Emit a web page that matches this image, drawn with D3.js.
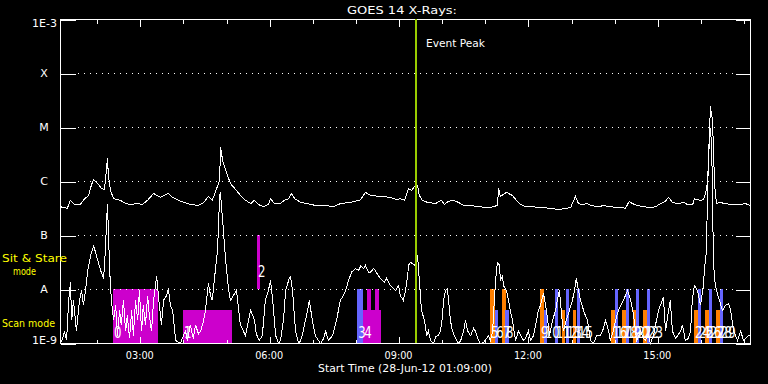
<!DOCTYPE html>
<html>
<head>
<meta charset="utf-8">
<script src="https://cdn.jsdelivr.net/npm/d3@7"></script>
<style>
	body { margin: 0; background: #000; }
	svg { display: block; background: #000; font-family: "DejaVu Sans", sans-serif; }
</style>
</head>
<body>
<svg id="chart" width="768" height="384"></svg>
<script>
// ---- data ----
// time is in decimal hours UT on 28-Jun-12, flux in W/m^2
const timeRange = [1.15, 17.15];
const majorHours = [3, 6, 9, 12, 15];
const minorHours = [2, 4, 5, 7, 8, 10, 11, 13, 14, 16, 17];
const fluxTicks = [1e-3, 1e-4, 1e-5, 1e-6, 1e-7, 1e-8, 1e-9];
const fluxTickLabels = ["1E-3", "X", "M", "C", "B", "A", "1E-9"];
const eventPeakHour = 9.38;

// 1-8 A channel
const longChannel = [[1.15,3.4e-7],[1.31,3.2e-7],[1.38,4.5e-7],[1.47,3.75e-7],[1.61,3.75e-7],[1.71,4.8e-7],[1.80,5.5e-7],[1.87,8.8e-7],[1.92,1.09e-6],[2.01,9.2e-7],[2.10,7.4e-7],[2.17,7.1e-7],[2.24,2.7e-6],[2.26,1.29e-6],[2.31,6.8e-7],[2.38,4.8e-7],[2.54,4.5e-7],[2.66,3.9e-7],[2.77,3.75e-7],[2.94,3.9e-7],[3.05,3.75e-7],[3.17,4.5e-7],[3.31,6.0e-7],[3.38,5.5e-7],[3.47,5.1e-7],[3.65,6.0e-7],[3.75,5.1e-7],[3.93,4.3e-7],[4.16,3.75e-7],[4.35,3.6e-7],[4.47,4.1e-7],[4.58,5.3e-7],[4.67,4.5e-7],[4.77,7.4e-7],[4.84,1.04e-6],[4.86,4.3e-6],[4.91,2.45e-6],[5.00,1.47e-6],[5.09,9.2e-7],[5.23,6.8e-7],[5.39,4.8e-7],[5.56,3.9e-7],[5.65,4.5e-7],[5.74,3.75e-7],[5.86,3.4e-7],[5.97,3.75e-7],[6.02,4.8e-7],[6.11,3.9e-7],[6.25,3.9e-7],[6.34,4.5e-7],[6.44,4.8e-7],[6.51,6.0e-7],[6.58,4.8e-7],[6.72,4.1e-7],[6.88,3.9e-7],[7.06,3.6e-7],[7.30,3.6e-7],[7.48,3.4e-7],[7.64,3.9e-7],[7.87,4.1e-7],[7.99,4.3e-7],[8.11,4.6e-7],[8.22,6.3e-7],[8.34,5.5e-7],[8.57,5.3e-7],[8.80,5.1e-7],[8.94,4.6e-7],[9.03,4.8e-7],[9.13,4.5e-7],[9.22,7.4e-7],[9.29,6.8e-7],[9.36,8.1e-7],[9.43,8.4e-7],[9.47,5.5e-7],[9.54,4.5e-7],[9.66,4.1e-7],[9.85,3.9e-7],[9.98,4.5e-7],[10.05,3.75e-7],[10.15,4.3e-7],[10.24,4.5e-7],[10.38,4.1e-7],[10.50,3.6e-7],[10.66,3.6e-7],[10.84,3.4e-7],[11.12,3.3e-7],[11.28,3.6e-7],[11.31,7.4e-7],[11.35,5.3e-7],[11.49,6.3e-7],[11.63,5.5e-7],[11.72,4.5e-7],[11.82,3.75e-7],[11.93,3.4e-7],[12.10,3.4e-7],[12.28,3.3e-7],[12.51,3.2e-7],[12.70,3.0e-7],[12.88,3.2e-7],[12.98,3.3e-7],[13.09,5.3e-7],[13.16,3.9e-7],[13.25,3.75e-7],[13.37,3.9e-7],[13.44,3.6e-7],[13.63,3.4e-7],[13.74,3.6e-7],[13.90,3.4e-7],[14.14,3.3e-7],[14.25,3.2e-7],[14.34,4.3e-7],[14.41,3.9e-7],[14.53,3.6e-7],[14.67,3.4e-7],[14.83,3.3e-7],[14.95,3.4e-7],[15.06,3.9e-7],[15.18,4.3e-7],[15.25,5.1e-7],[15.34,4.1e-7],[15.46,3.9e-7],[15.60,4.1e-7],[15.69,3.75e-7],[15.81,3.75e-7],[15.85,4.8e-7],[15.92,4.6e-7],[15.99,4.5e-7],[16.06,4.6e-7],[16.11,6.0e-7],[16.15,9.6e-7],[16.18,2.45e-6],[16.20,8.1e-6],[16.22,2.45e-5],[16.27,1.35e-5],[16.29,3.75e-6],[16.32,8.4e-7],[16.36,3.9e-7],[16.43,4.1e-7],[16.57,3.9e-7],[16.69,3.75e-7],[16.92,3.75e-7],[17.03,3.9e-7],[17.15,3.6e-7]];

// 0.5-4 A channel
const shortChannel = [[1.15,1.0e-9],[1.20,1.24e-9],[1.24,1.7e-9],[1.29,1.14e-9],[1.34,6.3e-9],[1.38,1.35e-8],[1.41,2.7e-9],[1.45,6.3e-9],[1.52,1.7e-9],[1.59,6.3e-9],[1.64,9.6e-9],[1.68,5.1e-9],[1.73,9.6e-9],[1.78,2.25e-8],[1.85,4.3e-8],[1.92,6.5e-8],[1.98,4.3e-8],[2.08,2.25e-8],[2.15,1.6e-8],[2.19,5.3e-8],[2.22,1.9e-7],[2.24,3.75e-7],[2.26,1.24e-7],[2.29,2.25e-8],[2.33,6.3e-9],[2.38,2.7e-9],[2.43,5.1e-9],[2.47,1.4e-9],[2.52,4.1e-9],[2.56,2.2e-9],[2.61,6.3e-9],[2.66,1.7e-9],[2.70,3.3e-9],[2.75,1.24e-9],[2.80,4.1e-9],[2.84,1.4e-9],[2.89,6.3e-9],[2.94,2.7e-9],[2.98,9.6e-9],[3.03,1.7e-9],[3.07,5.1e-9],[3.12,2.2e-9],[3.17,7.7e-9],[3.21,3.3e-9],[3.26,1.7e-9],[3.31,6.3e-9],[3.38,1.8e-8],[3.42,7.7e-9],[3.49,2.2e-9],[3.54,6.3e-9],[3.61,7.7e-9],[3.65,1.04e-8],[3.70,5.1e-9],[3.75,4.1e-9],[3.82,1.14e-9],[3.93,1.0e-9],[4.00,1.4e-9],[4.05,1.7e-9],[4.09,1.14e-9],[4.16,2.2e-9],[4.23,1.24e-9],[4.28,2.2e-9],[4.35,1.5e-9],[4.40,1.7e-9],[4.47,2.7e-9],[4.51,4.1e-9],[4.58,1.3e-8],[4.63,7.7e-9],[4.67,6.3e-9],[4.74,2.25e-8],[4.79,5.3e-8],[4.81,1.24e-7],[4.84,5.5e-7],[4.86,6.3e-7],[4.88,3.6e-7],[4.91,1.9e-7],[4.98,3.4e-8],[5.05,9.6e-9],[5.09,6.3e-9],[5.16,7.7e-9],[5.23,9.6e-9],[5.32,2.2e-9],[5.39,1.7e-9],[5.44,1.4e-9],[5.51,2.7e-9],[5.56,4.1e-9],[5.65,2.7e-9],[5.69,1.5e-9],[5.76,1.14e-9],[5.83,1.4e-9],[5.90,6.3e-9],[5.97,9.6e-9],[6.02,1.47e-8],[6.07,6.3e-9],[6.14,1.4e-9],[6.21,1.0e-9],[6.25,1.14e-9],[6.32,2.7e-9],[6.37,9.6e-9],[6.44,1.47e-8],[6.48,1.8e-8],[6.53,9.6e-9],[6.60,1.7e-9],[6.67,1.0e-9],[6.72,1.14e-9],[6.78,1.7e-9],[6.83,2.7e-9],[6.88,4.1e-9],[6.92,6.3e-9],[6.99,2.7e-9],[7.06,1.4e-9],[7.13,1.14e-9],[7.18,1.0e-9],[7.25,1.24e-9],[7.30,1.7e-9],[7.36,1.14e-9],[7.46,1.4e-9],[7.55,2.7e-9],[7.64,6.3e-9],[7.71,7.7e-9],[7.76,9.6e-9],[7.83,1.47e-8],[7.90,2.1e-8],[7.99,2.45e-8],[8.06,2.25e-8],[8.11,2.7e-8],[8.18,2.45e-8],[8.22,2.8e-8],[8.29,2.1e-8],[8.34,2.1e-8],[8.41,2.45e-8],[8.45,2.25e-8],[8.52,1.8e-8],[8.57,1.6e-8],[8.62,1.47e-8],[8.66,1.35e-8],[8.71,1.6e-8],[8.76,1.35e-8],[8.80,1.19e-8],[8.87,1.04e-8],[8.92,9.6e-9],[8.99,1.19e-8],[9.03,7.7e-9],[9.10,6.3e-9],[9.15,9.6e-9],[9.20,1.8e-8],[9.22,2.8e-8],[9.27,3.2e-8],[9.31,3.0e-8],[9.36,2.8e-8],[9.43,4.3e-8],[9.47,1.47e-8],[9.52,4.1e-9],[9.59,2.7e-9],[9.64,1.4e-9],[9.68,1.7e-9],[9.73,1.14e-9],[9.80,1.0e-9],[9.85,1.35e-9],[9.91,1.4e-9],[9.96,1.7e-9],[10.01,3.3e-9],[10.03,6.3e-9],[10.08,9.6e-9],[10.12,1.04e-8],[10.15,6.3e-9],[10.19,2.7e-9],[10.24,1.7e-9],[10.31,1.24e-9],[10.38,1.0e-9],[10.43,1.14e-9],[10.50,1.7e-9],[10.54,2.7e-9],[10.59,1.7e-9],[10.66,1.4e-9],[10.73,1.9e-9],[10.77,1.7e-9],[10.84,1.14e-9],[10.89,1.0e-9],[10.96,1.04e-9],[11.03,1.24e-9],[11.07,1.4e-9],[11.12,1.14e-9],[11.17,1.7e-9],[11.21,6.3e-9],[11.24,1.47e-8],[11.28,3.2e-8],[11.33,2.8e-8],[11.35,1.47e-8],[11.40,1.8e-8],[11.42,1.19e-8],[11.49,9.6e-9],[11.54,6.3e-9],[11.58,4.1e-9],[11.63,2.7e-9],[11.70,1.14e-9],[11.77,1.7e-9],[11.82,1.4e-9],[11.89,1.14e-9],[11.93,1.24e-9],[12.00,1.7e-9],[12.05,1.14e-9],[12.12,1.4e-9],[12.19,2.7e-9],[12.23,4.1e-9],[12.28,5.1e-9],[12.35,8.4e-9],[12.42,4.1e-9],[12.49,1.4e-9],[12.56,2.7e-9],[12.63,4.1e-9],[12.67,6.3e-9],[12.72,9.6e-9],[12.77,3.3e-9],[12.81,1.7e-9],[12.88,2.7e-9],[12.95,4.1e-9],[13.02,6.3e-9],[13.07,9.6e-9],[13.11,1.6e-8],[13.16,9.6e-9],[13.21,6.3e-9],[13.28,4.1e-9],[13.32,3.3e-9],[13.37,2.7e-9],[13.44,1.14e-9],[13.51,1.0e-9],[13.58,1.4e-9],[13.67,1.4e-9],[13.74,1.9e-9],[13.79,2.7e-9],[13.86,1.7e-9],[13.90,1.14e-9],[13.97,1.7e-9],[14.02,2.7e-9],[14.09,4.1e-9],[14.14,5.1e-9],[14.20,6.3e-9],[14.25,7.7e-9],[14.30,9.6e-9],[14.37,6.3e-9],[14.44,3.3e-9],[14.51,1.14e-9],[14.60,1.7e-9],[14.67,1.24e-9],[14.71,1.14e-9],[14.78,1.4e-9],[14.83,1.0e-9],[14.90,1.4e-9],[14.97,2.7e-9],[15.02,4.1e-9],[15.06,5.1e-9],[15.13,7.1e-9],[15.18,1.7e-9],[15.25,4.1e-9],[15.29,6.3e-9],[15.34,1.7e-9],[15.41,1.24e-9],[15.46,1.4e-9],[15.53,1.7e-9],[15.57,2.2e-9],[15.64,1.14e-9],[15.71,1.24e-9],[15.76,1.7e-9],[15.80,6.3e-9],[15.85,1.19e-8],[15.92,9.6e-9],[15.99,5.1e-9],[16.06,1.19e-8],[16.08,2.25e-8],[16.13,5.3e-8],[16.15,4.45e-7],[16.18,3.75e-6],[16.20,7.1e-6],[16.22,9.6e-6],[16.25,4.6e-6],[16.27,4.45e-7],[16.29,3.4e-8],[16.32,1.47e-8],[16.36,9.6e-9],[16.43,6.3e-9],[16.50,4.1e-9],[16.57,5.1e-9],[16.64,5.5e-9],[16.69,4.1e-9],[16.76,1.7e-9],[16.85,1.14e-9],[16.92,1.7e-9],[16.99,1.14e-9],[17.03,1.24e-9],[17.10,1.4e-9],[17.15,1.4e-9]];

// observation blocks (start / end in hours)
const obsStart = [2.38, 4.00, 5.72, 8.04, 8.18, 8.27, 8.45, 11.12, 11.24, 11.40, 11.47, 12.28, 12.37, 12.63, 12.79, 12.88, 13.05, 13.14, 13.93, 14.02, 14.18, 14.27, 14.44, 14.51, 14.67, 14.76, 15.85, 15.94, 16.11, 16.20, 16.36, 16.45];
const obsEnd = [3.42, 5.14, 5.79, 8.18, 8.59, 8.36, 8.55, 11.24, 11.31, 11.49, 11.56, 12.37, 12.44, 12.70, 12.86, 12.95, 13.12, 13.21, 14.02, 14.09, 14.27, 14.34, 14.51, 14.58, 14.76, 14.83, 15.94, 16.01, 16.20, 16.27, 16.45, 16.52];
const obsMode = ["scanWide", "scanNarrow", "stare", "scanWide", "scanNarrow", "scanWide", "scanWide",
	"scanWide", "scanNarrow", "scanWide", "scanNarrow",
	"scanWide", "scanNarrow", "scanWide", "scanNarrow", "scanWide", "scanNarrow", "scanWide",
	"scanNarrow", "scanWide", "scanNarrow", "scanWide", "scanNarrow", "scanWide", "scanNarrow", "scanWide",
	"scanNarrow", "scanWide", "scanNarrow", "scanWide", "scanNarrow", "scanWide"];
const obsColour = ["magenta", "magenta", "magenta", "blue", "magenta", "magenta", "magenta",
	"orange", "blue", "orange", "blue",
	"orange", "blue", "blue", "orange", "blue", "orange", "blue",
	"orange", "blue", "orange", "blue", "orange", "blue", "orange", "blue",
	"orange", "blue", "orange", "blue", "orange", "blue"];
const obsLabel = ["0", "1", "2", "3", "4", "", "", "5", "6", "7", "8", "9", "10", "11", "12", "13", "14", "15",
	"16", "17", "18", "19", "20", "21", "22", "23", "24", "25", "26", "27", "28", "29"];

// ---- styling ----
const palette = { magenta: "#cc00cc", blue: "#6666ff", orange: "#ff8000" };
const peakColour = "#99cc00";
const modeLabelColour = "#ffff00";
// flux band each observation mode occupies
const modeBand = {
	stare: [1e-8, 1e-7],
	scanWide: [1e-9, 1e-8],
	scanNarrow: [1e-9, Math.pow(10, -8.39)]
};

const plotBox = { left: 60, right: 750, top: 19, bottom: 343 };

const svg = d3.select("#chart");

const x = d3.scaleLinear().domain(timeRange).range([plotBox.left, plotBox.right]);
const y = d3.scaleLog()
			.domain([fluxTicks[fluxTicks.length - 1], fluxTicks[0]])
			.range([plotBox.bottom, plotBox.top]);

// small helper for the stretched IDL-like labels
function addText(parent, str, px, py, size, colour, len) {
	let t = parent.append("text")
				.attr("x", px)
				.attr("y", py)
				.attr("font-size", size)
				.attr("fill", colour)
				.text(str);
	if (len) {
		t.attr("textLength", len).attr("lengthAdjust", "spacingAndGlyphs");
	}
	return t;
}

// ---- observation bars (under everything else) ----
const barLayer = svg.append("g").attr("shape-rendering", "crispEdges");
obsStart.forEach((start, i) => {
	let band = modeBand[obsMode[i]];
	barLayer.append("rect")
			.attr("x", Math.round(x(start)))
			.attr("y", Math.round(y(band[1])))
			.attr("width", Math.max(2, Math.round(x(obsEnd[i]) - x(start))))
			.attr("height", Math.round(y(band[0]) - y(band[1])))
			.attr("fill", palette[obsColour[i]]);
});

// crisp 1px lines: shift by half a pixel
const lines = svg.append("g").attr("transform", "translate(0.5,0.5)");

// dotted grid at the flare class levels
fluxTicks.slice(1, -1).forEach((f) => {
	lines.append("line")
		.attr("x1", plotBox.left + 17).attr("x2", plotBox.right - 15)
		.attr("y1", Math.round(y(f))).attr("y2", Math.round(y(f)))
		.attr("stroke", "#fff")
		.attr("stroke-dasharray", "1 5")
		.attr("shape-rendering", "crispEdges");
});

// decade ticks on both sides
lines.append("g")
	.attr("transform", `translate(${plotBox.left},0)`)
	.call(d3.axisRight(y).tickValues(fluxTicks).tickSize(15).tickFormat(""))
	.call((g) => g.select(".domain").remove());
lines.append("g")
	.attr("transform", `translate(${plotBox.right},0)`)
	.call(d3.axisLeft(y).tickValues(fluxTicks).tickSize(15).tickFormat(""))
	.call((g) => g.select(".domain").remove());

// hour ticks on top and bottom
[[d3.axisBottom, plotBox.top], [d3.axisTop, plotBox.bottom]].forEach(([axisFn, py]) => {
	lines.append("g")
		.attr("transform", `translate(0,${py})`)
		.call(axisFn(x).tickValues(majorHours).tickSize(7).tickFormat(""))
		.call((g) => g.select(".domain").remove());
	lines.append("g")
		.attr("transform", `translate(0,${py})`)
		.call(axisFn(x).tickValues(minorHours).tickSize(4).tickFormat(""))
		.call((g) => g.select(".domain").remove());
});
lines.selectAll(".tick line").attr("stroke", "#fff").attr("shape-rendering", "crispEdges");

// observation numbers
const labelLayer = svg.append("g");
obsStart.forEach((start, i) => {
	if (!obsLabel[i]) return;
	let bottom = y(modeBand[obsMode[i]][0]);
	let py = obsMode[i] == "stare" ? bottom - 12 : bottom - 5;
	addText(labelLayer, obsLabel[i], x(start) + 1, py, 15, "#fff", 7.5 * obsLabel[i].length);
});

// the two GOES channels, clipped to the plot
svg.append("clipPath").attr("id", "plotClip")
	.append("rect")
	.attr("x", plotBox.left).attr("y", plotBox.top)
	.attr("width", plotBox.right - plotBox.left + 1)
	.attr("height", plotBox.bottom - plotBox.top + 1);

const fluxLine = d3.line()
				.x((d) => x(d[0]))
				.y((d) => y(d[1]));

const curves = lines.append("g").attr("clip-path", "url(#plotClip)");
[shortChannel, longChannel].forEach((series) => {
	curves.append("path")
		.datum(series)
		.attr("d", fluxLine)
		.attr("fill", "none")
		.attr("stroke", "#fff")
		.attr("stroke-width", 1)
		.attr("shape-rendering", "crispEdges");
});

// frame
lines.append("rect")
	.attr("x", plotBox.left).attr("y", plotBox.top)
	.attr("width", plotBox.right - plotBox.left)
	.attr("height", plotBox.bottom - plotBox.top)
	.attr("fill", "none")
	.attr("stroke", "#fff")
	.attr("shape-rendering", "crispEdges");

// event peak marker
const peakX = Math.round(x(eventPeakHour));
svg.append("line")
	.attr("x1", peakX + 1).attr("x2", peakX + 1)
	.attr("y1", plotBox.top).attr("y2", plotBox.bottom)
	.attr("stroke", peakColour)
	.attr("stroke-width", 2);

// ---- texts ----
const texts = svg.append("g");
let plotCentre = (plotBox.left + plotBox.right) / 2;

addText(texts, "GOES 14 X-Rays:", plotCentre - 58, 14, 11, "#fff", 110);
addText(texts, "Event Peak", peakX + 11, 47, 11, "#fff", 59);
addText(texts, "Start Time (28-Jun-12 01:09:00)", plotCentre - 87, 372, 11, "#fff", 174);

majorHours.forEach((h) => {
	addText(texts, d3.format("02")(h) + ":00", x(h) - 14, 359, 11, "#fff", 28);
});

fluxTicks.forEach((f, i) => {
	let label = fluxTickLabels[i];
	let py = y(f);
	if (label.length > 1) {
		// exponent labels sit inside the axis range
		let dy = i == 0 ? 8 : 1;
		addText(texts, label, plotBox.left - 28, py + dy, 11, "#fff", 25);
	} else {
		addText(texts, label, 44, py + 4, 11, "#fff").attr("text-anchor", "middle");
	}
});

addText(texts, "Sit & Stare", 2, 262, 11, modeLabelColour, 65);
addText(texts, "mode", 13, 275, 11, modeLabelColour, 23);
addText(texts, "Scan mode", 2, 327, 11, modeLabelColour, 53);
</script>
</body>
</html>
